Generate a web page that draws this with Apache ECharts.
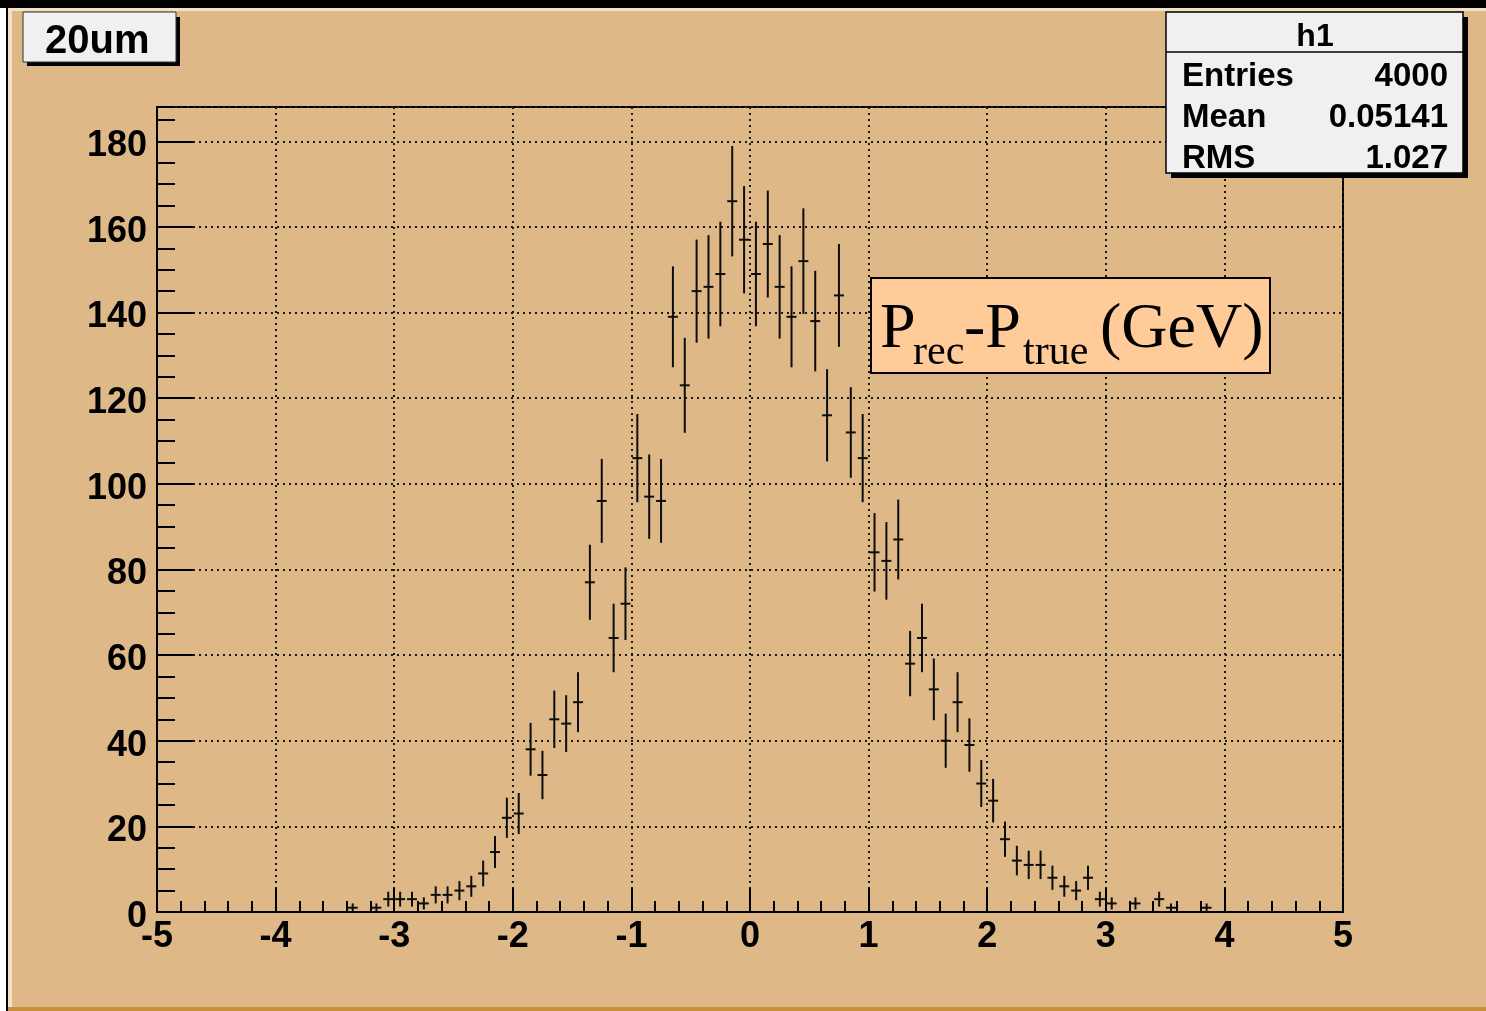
<!DOCTYPE html>
<html>
<head>
<meta charset="utf-8">
<title>h1 — Prec-Ptrue</title>
<script src="https://cdn.jsdelivr.net/npm/echarts@6/dist/echarts.min.js"></script>
<style>
  html, body { margin: 0; padding: 0; background: #ffffff; }
  #chart { width: 1486px; height: 1011px; }
</style>
</head>
<body>
<div id="chart"></div>
<script>
// Histogram h1: 100 bins over [-5, 5], only non-empty bins listed (bin centres)
const binCenters = [
  -3.35, -3.15, -3.05, -2.95, -2.85, -2.75, -2.65, -2.55, -2.45, -2.35,
  -2.25, -2.15, -2.05, -1.95, -1.85, -1.75, -1.65, -1.55, -1.45, -1.35,
  -1.25, -1.15, -1.05, -0.95, -0.85, -0.75, -0.65, -0.55, -0.45, -0.35,
  -0.25, -0.15, -0.05, 0.05, 0.15, 0.25, 0.35, 0.45, 0.55, 0.65,
  0.75, 0.85, 0.95, 1.05, 1.15, 1.25, 1.35, 1.45, 1.55, 1.65,
  1.75, 1.85, 1.95, 2.05, 2.15, 2.25, 2.35, 2.45, 2.55, 2.65,
  2.75, 2.85, 2.95, 3.05, 3.25, 3.45, 3.55, 3.85
];
const binCounts = [
  1, 1, 3, 3, 3, 2, 4, 4, 5, 6,
  9, 14, 22, 23, 38, 32, 45, 44, 49, 77,
  96, 64, 72, 106, 97, 96, 139, 123, 145, 146,
  149, 166, 157, 149, 156, 146, 139, 152, 138, 116,
  144, 112, 106, 84, 82, 87, 58, 64, 52, 40,
  49, 39, 30, 26, 17, 12, 11, 11, 8, 6,
  5, 8, 3, 2, 2, 3, 1, 1
];

// Axis ticks
const xMajorTicks = [-5, -4, -3, -2, -1, 0, 1, 2, 3, 4, 5];
const yMajorTicks = [0, 20, 40, 60, 80, 100, 120, 140, 160, 180];
const yMax = 188;

// Statistics box
const statTitle = 'h1';
const statRows = [
  ['Entries', '4000'],
  ['Mean', '0.05141'],
  ['RMS', '1.027']
];
const padTitle = '20um';

const SANS = '"Liberation Sans", Arial, Helvetica, sans-serif';
const SERIF = '"Liberation Serif", "Times New Roman", serif';
const PAD = '#deb887';

const seriesData = binCenters.map((x, i) => [x, binCounts[i]]);

function renderErrorBar(params, api) {
  const x = api.value(0);
  const n = api.value(1);
  const err = Math.sqrt(n);
  const mid = api.coord([x, n]);
  const top = api.coord([x, n + err]);
  const bot = api.coord([x, Math.max(0, n - err)]);
  const hw = api.size([0.1, 0])[0] * 0.42;
  const st = { stroke: '#0d0d0d', lineWidth: 2 };
  return {
    type: 'group',
    children: [
      { type: 'line', shape: { x1: mid[0], y1: top[1], x2: mid[0], y2: bot[1] }, style: st },
      { type: 'line', shape: { x1: mid[0] - hw, y1: mid[1], x2: mid[0] + hw, y2: mid[1] }, style: st }
    ]
  };
}

function textEl(text, x, y, size, opts) {
  opts = opts || {};
  return {
    type: 'text',
    x: x, y: y, z: 20,
    style: {
      text: text,
      fontFamily: opts.family || SANS,
      fontSize: size,
      fontWeight: opts.weight || 'bold',
      fill: '#000',
      align: opts.align || 'left',
      textAlign: opts.align || 'left',
      verticalAlign: 'middle',
      textVerticalAlign: 'middle'
    }
  };
}

const statChildren = [
  // shadow + box
  { type: 'rect', shape: { x: 1171, y: 17, width: 297, height: 161 }, style: { fill: '#000' }, z: 18 },
  { type: 'rect', shape: { x: 1166, y: 12, width: 297, height: 161 }, style: { fill: '#f0f0f0', stroke: '#000', lineWidth: 1.5 }, z: 19 },
  { type: 'line', shape: { x1: 1166, y1: 52, x2: 1463, y2: 52 }, style: { stroke: '#000', lineWidth: 1.5 }, z: 19 },
  textEl(statTitle, 1315, 37, 32, { align: 'center' })
];
const statY = [77, 118, 159];
statRows.forEach((r, i) => {
  statChildren.push(textEl(r[0], 1182, statY[i], 33));
  statChildren.push(textEl(r[1], 1448, statY[i], 33, { align: 'right' }));
});

const yAxisLine = { show: true, onZero: false, lineStyle: { color: '#000', width: 2 } };

const option = {
  backgroundColor: PAD,
  animation: false,
  grid: {
    left: 157, top: 107, right: 143, bottom: 99,
    show: true, borderColor: '#000', borderWidth: 2, backgroundColor: 'transparent'
  },
  xAxis: {
    type: 'value', min: -5, max: 5, interval: 1,
    axisLine: { show: true, onZero: false, lineStyle: { color: '#000', width: 2 } },
    axisTick: { show: true, inside: true, length: 24, lineStyle: { color: '#000', width: 2 } },
    minorTick: { show: true, splitNumber: 5, length: 11, lineStyle: { color: '#000', width: 2 } },
    axisLabel: {
      color: '#000', fontSize: 36, fontWeight: 'bold', fontFamily: SANS, margin: 7,
      formatter: v => (xMajorTicks.indexOf(v) >= 0 ? String(v) : '')
    },
    splitLine: { show: true, lineStyle: { color: '#1a1a1a', width: 2, type: [2, 4] } }
  },
  yAxis: [
    {
      type: 'value', min: 0, max: yMax, interval: 20, position: 'left',
      axisLine: yAxisLine,
      axisTick: { show: true, inside: true, length: 36, lineStyle: { color: '#000', width: 2 } },
      axisLabel: {
        color: '#000', fontSize: 36, fontWeight: 'bold', fontFamily: SANS, margin: 10,
        verticalAlign: 'top',
        lineHeight: 10,
        showMaxLabel: false,
        formatter: v => (yMajorTicks.indexOf(v) >= 0 ? String(v) : '')
      },
      splitLine: { show: true, lineStyle: { color: '#1a1a1a', width: 2, type: [2, 4] } }
    },
    {
      type: 'value', min: 0, max: yMax, interval: 5, position: 'left', offset: 0,
      axisLine: { show: false, onZero: false },
      axisTick: { show: true, inside: true, length: 18, lineStyle: { color: '#000', width: 2 } },
      axisLabel: { show: false },
      splitLine: { show: false }
    }
  ],
  series: [{
    type: 'custom',
    xAxisIndex: 0, yAxisIndex: 0,
    renderItem: renderErrorBar,
    data: seriesData,
    clip: true,
    z: 5
  }],
  graphic: [
    // canvas border bevel
    { type: 'rect', shape: { x: 0, y: 0, width: 1486, height: 8 }, style: { fill: '#000' }, z: 30 },
    { type: 'rect', shape: { x: 0, y: 0, width: 6, height: 1011 }, style: { fill: '#ffffff' }, z: 29 },
    { type: 'rect', shape: { x: 6, y: 0, width: 2, height: 1011 }, style: { fill: '#000' }, z: 30 },
    { type: 'rect', shape: { x: 8, y: 8, width: 4, height: 1000 }, style: { fill: '#f2e2c6' }, z: 29 },
    { type: 'rect', shape: { x: 8, y: 8, width: 1478, height: 3 }, style: { fill: '#f2e2c6' }, z: 29 },
    { type: 'rect', shape: { x: 8, y: 1007, width: 1478, height: 4 }, style: { fill: '#c8903c' }, z: 29 },

    // pad title box
    { type: 'rect', shape: { x: 27, y: 17, width: 153, height: 49 }, style: { fill: '#000' }, z: 18 },
    { type: 'rect', shape: { x: 23, y: 12, width: 153, height: 50 }, style: { fill: '#f0f0f0', stroke: '#333', lineWidth: 1 }, z: 19 },
    textEl(padTitle, 45, 42, 40),

    // statistics box
    { type: 'group', children: statChildren },

    // axis title box
    { type: 'rect', shape: { x: 871, y: 278, width: 399, height: 95 }, style: { fill: '#ffcc99', stroke: '#000', lineWidth: 2 }, z: 19 },
    textEl('P', 880, 330, 64, { family: SERIF, weight: 'normal' }),
    textEl('rec', 913, 353, 42, { family: SERIF, weight: 'normal' }),
    textEl('-P', 964, 330, 64, { family: SERIF, weight: 'normal' }),
    textEl('true', 1023, 353, 42, { family: SERIF, weight: 'normal' }),
    textEl('(GeV)', 1100, 330, 64, { family: SERIF, weight: 'normal' })
  ]
};

const chart = echarts.init(document.getElementById('chart'), null, { renderer: 'canvas' });
chart.setOption(option);
</script>
</body>
</html>
